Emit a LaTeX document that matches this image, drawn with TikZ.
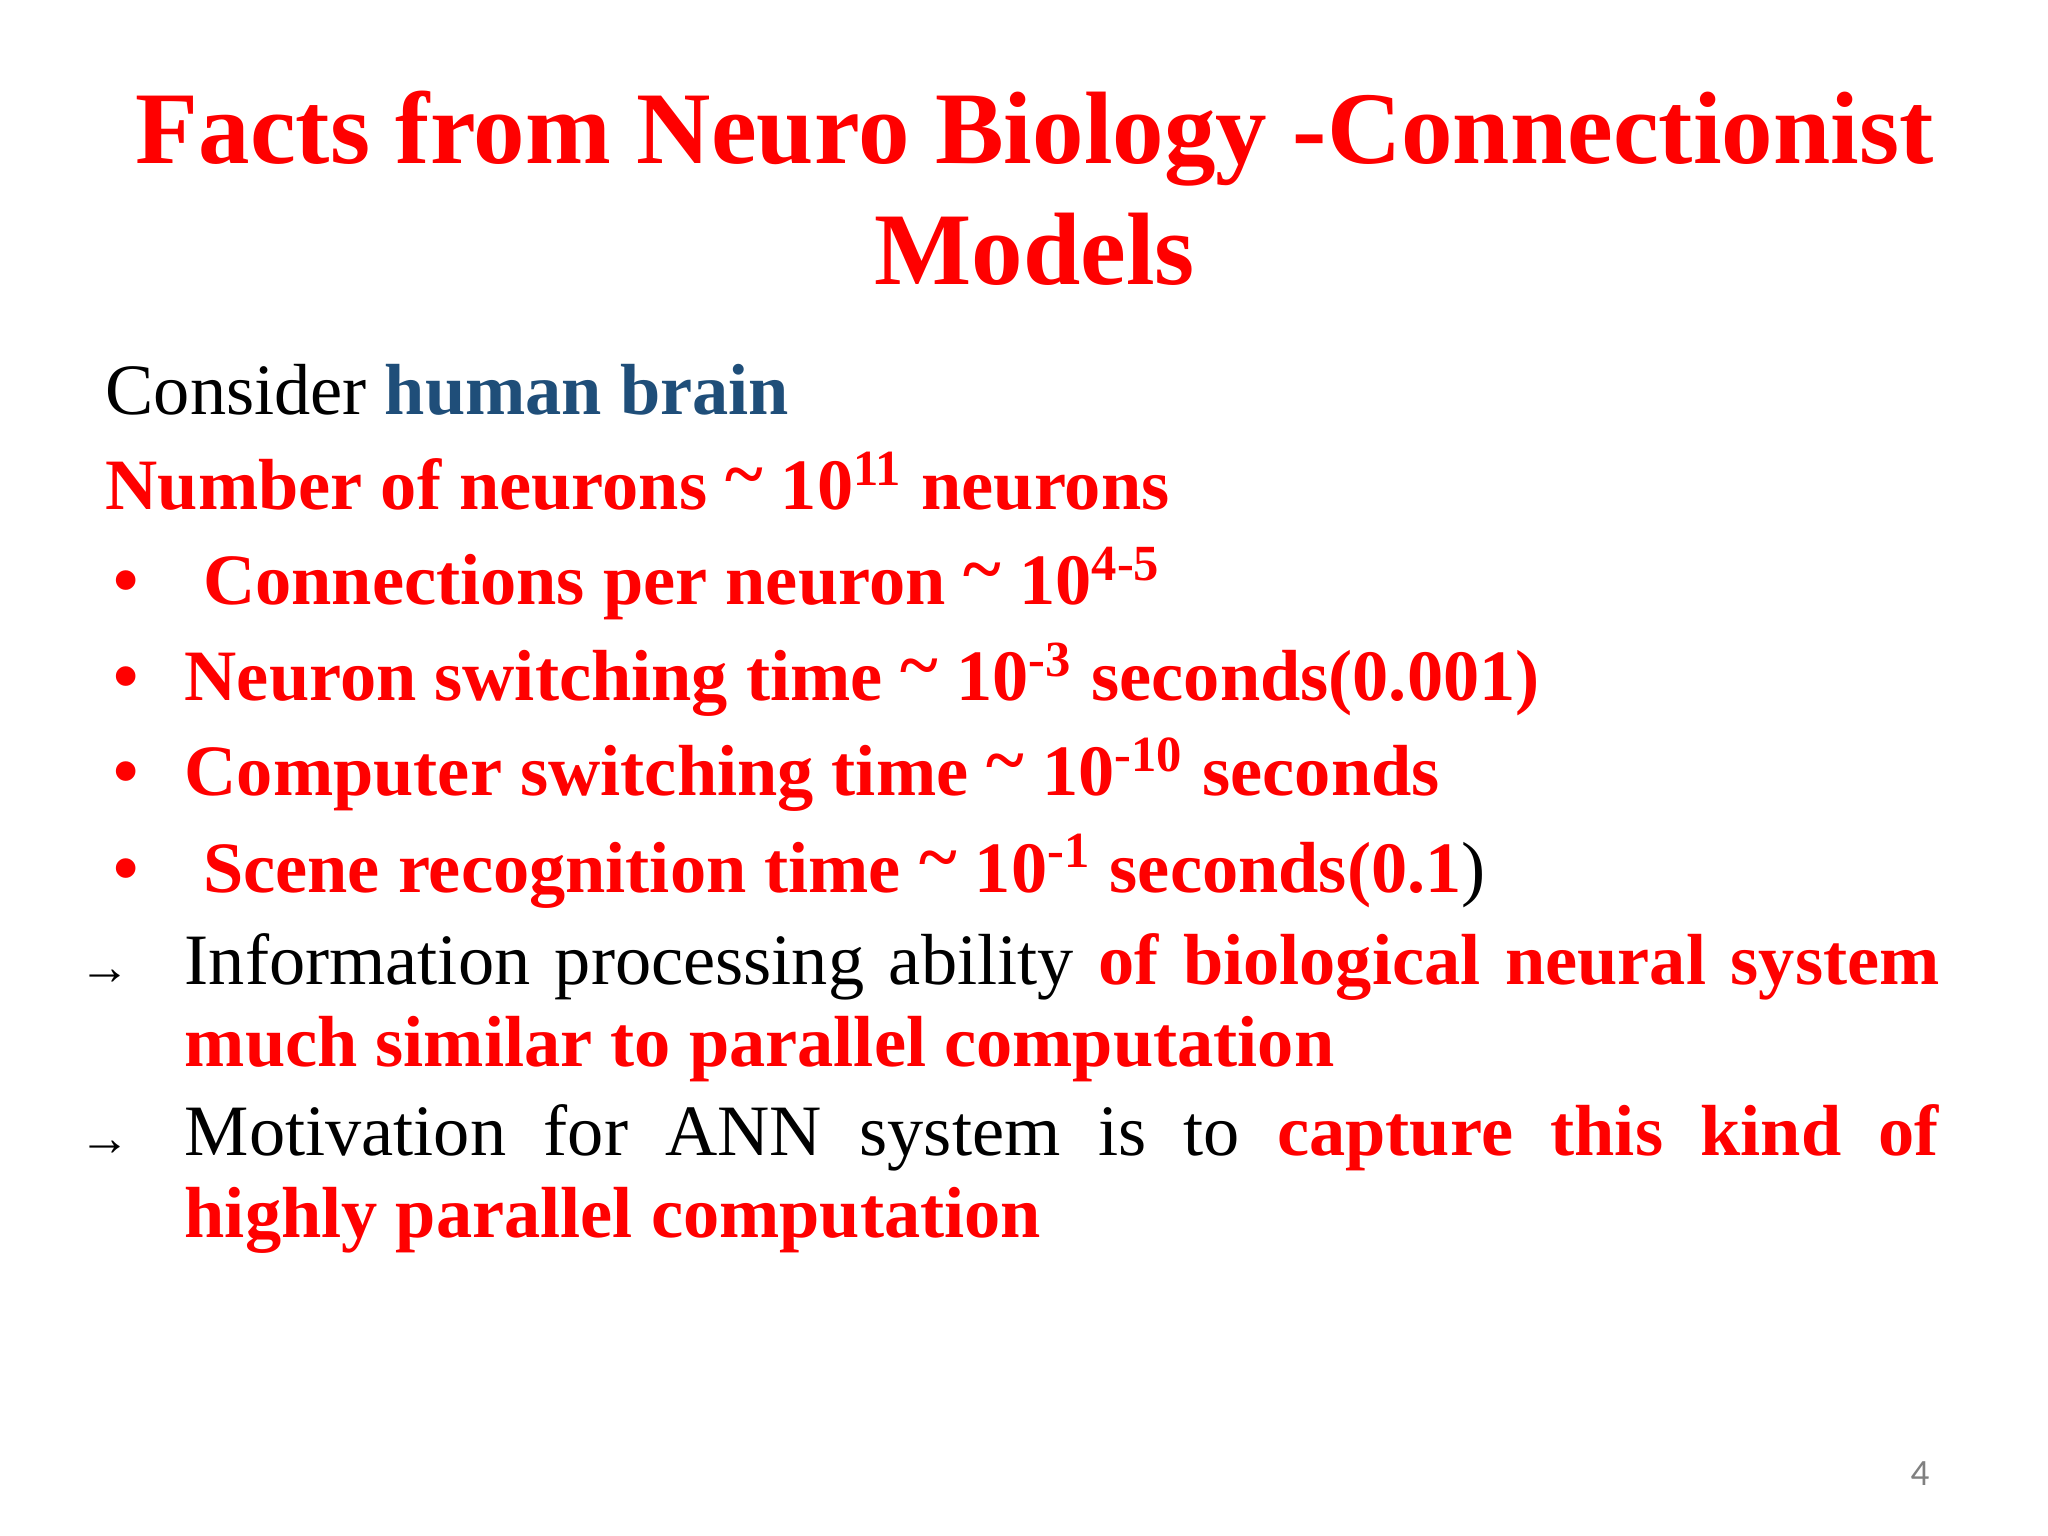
\documentclass[tikz,border=0pt]{standalone}
\usepackage{fontspec}
\setmainfont{Liberation Serif}
\newfontfamily\pnfont{Carlito}
\definecolor{tred}{HTML}{FF0000}
\definecolor{tblue}{HTML}{1F4E79}
\newcommand{\tld}{\raisebox{0.15em}{\textasciitilde}}
\begin{document}
\begin{tikzpicture}[x=1cm,y=1cm,
  every node/.style={inner sep=0pt,outer sep=0pt},
  title/.style={font=\fontsize{22.2}{26}\selectfont\bfseries,text=tred,anchor=base},
  body/.style={font=\fontsize{15.6}{17.6}\selectfont,anchor=base west},
  para/.style={font=\fontsize{15.6}{17.6}\selectfont,anchor=base west,text width=13.3cm,align=justify}]
\useasboundingbox (0,0) rectangle (15.52,11.64);
\node[title] (t1) at (7.84,10.40) {Facts from Neuro Biology -Connectionist};
\node[title] (t2) at (7.84,9.48) {Models};
\node[body] (c) at (0.80,8.50) {Consider \textbf{\color{tblue}human brain}};
\node[body,text=tred] (n) at (0.80,7.78) {\textbf{Number of neurons \tld{} 10\textsuperscript{11} neurons}};
\foreach \y/\nm in {7.06/b1,6.33/b2,5.61/b3,4.88/b4}
  \node[body,text=tred] (\nm) at (0.86,\y) {\textbf{•}};
\node[body,text=tred] (l1) at (1.54,7.06) {\textbf{Connections per neuron \tld{} 10\textsuperscript{4-5}}};
\node[body,text=tred] (l2) at (1.40,6.33) {\textbf{Neuron switching time \tld{} 10\textsuperscript{-3} seconds(0.001)}};
\node[body,text=tred] (l3) at (1.40,5.61) {\textbf{Computer switching time \tld{} 10\textsuperscript{-10} seconds}};
\node[body] (l4) at (1.54,4.88) {\textcolor{tred}{\textbf{Scene recognition time \tld{} 10\textsuperscript{-1} seconds(0.1}})};
\node[body] (a1) at (0.60,4.18) {\fontsize{11}{12}\selectfont →};
\node[para] (p1) at (1.40,4.18) {Information processing ability \textcolor{tred}{\textbf{of biological neural system}}\linebreak \textcolor{tred}{\textbf{much similar to parallel computation}}};
\node[body] (a2) at (0.60,2.88) {\fontsize{11}{12}\selectfont →};
\node[para] (p2) at (1.40,2.88) {Motivation for ANN system is to \textcolor{tred}{\textbf{capture this kind of}}\linebreak \textcolor{tred}{\textbf{highly parallel computation}}};
\node[font=\pnfont\fontsize{8}{9}\selectfont,text=gray,anchor=base] (pg) at (14.55,0.38) {4};
\end{tikzpicture}
\end{document}
